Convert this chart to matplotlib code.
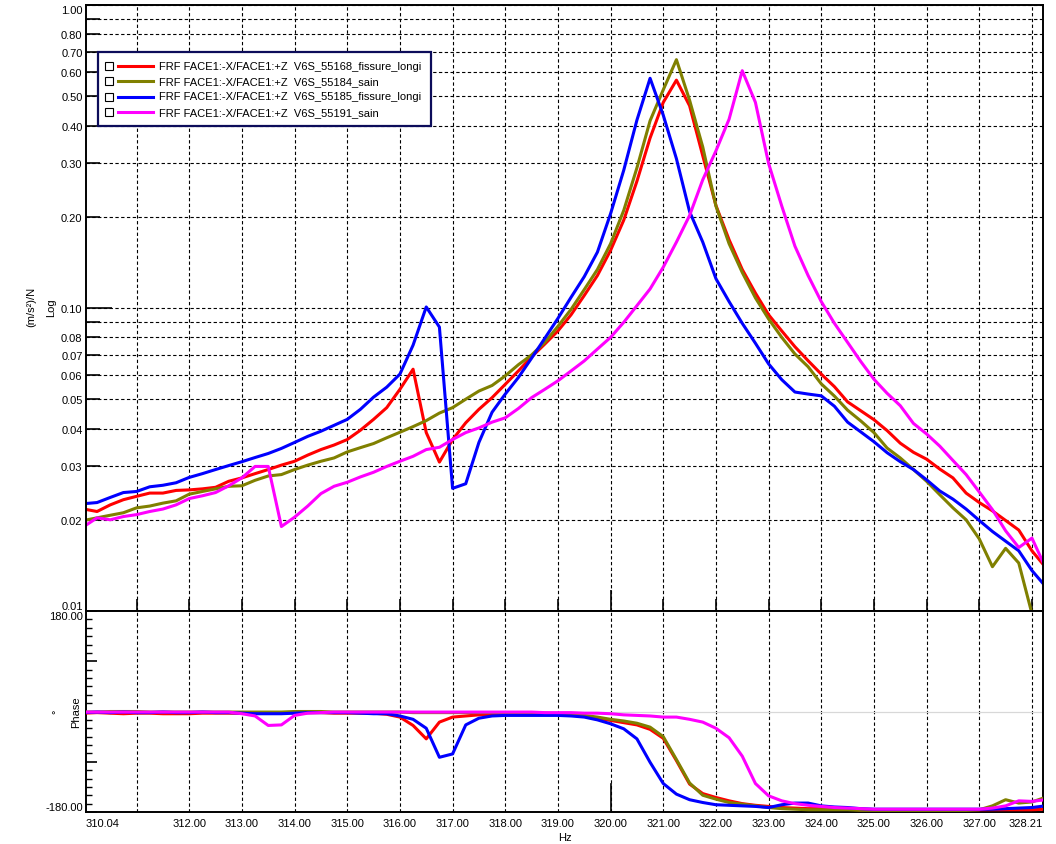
import numpy as np
import matplotlib
matplotlib.use('Agg')
import matplotlib.pyplot as plt
from matplotlib.ticker import FixedLocator, FuncFormatter
from matplotlib.patches import Rectangle
from matplotlib.lines import Line2D

plt.rcParams['font.family'] = ['Liberation Sans', 'DejaVu Sans']
plt.rcParams['font.size'] = 8

# frequency grid of the FRF (0.25 Hz resolution)
freq = np.arange(310.0, 328.26, 0.25)

names = ["FRF FACE1:-X/FACE1:+Z  V6S_55168_fissure_longi",
         "FRF FACE1:-X/FACE1:+Z  V6S_55184_sain",
         "FRF FACE1:-X/FACE1:+Z  V6S_55185_fissure_longi",
         "FRF FACE1:-X/FACE1:+Z  V6S_55191_sain"]
colors = ["#ff0000", "#808000", "#0000ff", "#ff00ff"]

# magnitude, (m/s2)/N
mag_55168 = [0.0217, 0.0213, 0.0224, 0.0233, 0.0239, 0.0245, 0.0245, 0.0250,
             0.0251, 0.0253, 0.0256, 0.0268, 0.0275, 0.0284, 0.0293, 0.0303,
             0.0312, 0.0327, 0.0341, 0.0353, 0.0368, 0.0395, 0.0429, 0.0469,
             0.0539, 0.0628, 0.0388, 0.0310, 0.0368, 0.0418, 0.0463, 0.0506,
             0.0560, 0.0620, 0.0690, 0.0760, 0.0840, 0.0950, 0.1100, 0.1280,
             0.1550, 0.1950, 0.2620, 0.3640, 0.4770, 0.5650, 0.4650, 0.3180,
             0.2180, 0.1680, 0.1340, 0.1120, 0.0950, 0.0840, 0.0745, 0.0670,
             0.0605, 0.0550, 0.0490, 0.0458, 0.0428, 0.0394, 0.0358, 0.0334,
             0.0317, 0.0294, 0.0275, 0.0245, 0.0228, 0.0214, 0.0199, 0.0185,
             0.0158, 0.0140]
mag_55184 = [0.0199, 0.0203, 0.0207, 0.0211, 0.0219, 0.0222, 0.0227, 0.0231,
             0.0243, 0.0248, 0.0253, 0.0258, 0.0259, 0.0270, 0.0279, 0.0282,
             0.0293, 0.0303, 0.0312, 0.0320, 0.0335, 0.0346, 0.0357, 0.0373,
             0.0389, 0.0406, 0.0425, 0.0450, 0.0469, 0.0500, 0.0532, 0.0555,
             0.0597, 0.0650, 0.0700, 0.0770, 0.0870, 0.0990, 0.1150, 0.1340,
             0.1630, 0.2100, 0.2900, 0.4150, 0.5250, 0.6600, 0.4850, 0.3400,
             0.2170, 0.1630, 0.1310, 0.1080, 0.0920, 0.0800, 0.0705, 0.0640,
             0.0562, 0.0512, 0.0460, 0.0424, 0.0388, 0.0345, 0.0320, 0.0293,
             0.0268, 0.0242, 0.0219, 0.0200, 0.0173, 0.0140, 0.0161, 0.0144,
             0.0098, 0.0080]
mag_55185 = [0.0226, 0.0228, 0.0237, 0.0246, 0.0248, 0.0257, 0.0260, 0.0265,
             0.0276, 0.0284, 0.0293, 0.0302, 0.0311, 0.0321, 0.0331, 0.0344,
             0.0360, 0.0377, 0.0392, 0.0410, 0.0429, 0.0463, 0.0508, 0.0548,
             0.0605, 0.0754, 0.1008, 0.0865, 0.0254, 0.0263, 0.0360, 0.0453,
             0.0520, 0.0590, 0.0683, 0.0794, 0.0924, 0.1085, 0.1269, 0.1529,
             0.2048, 0.2850, 0.4170, 0.5730, 0.4330, 0.3110, 0.2080, 0.1650,
             0.1250, 0.1050, 0.0890, 0.0765, 0.0654, 0.0580, 0.0528, 0.0520,
             0.0513, 0.0474, 0.0420, 0.0390, 0.0362, 0.0333, 0.0311, 0.0293,
             0.0271, 0.0249, 0.0234, 0.0217, 0.0199, 0.0183, 0.0170, 0.0158,
             0.0136, 0.0121]
mag_55191 = [0.0190, 0.0203, 0.0200, 0.0205, 0.0208, 0.0213, 0.0217, 0.0224,
             0.0235, 0.0240, 0.0246, 0.0259, 0.0275, 0.0300, 0.0300, 0.0190,
             0.0204, 0.0222, 0.0244, 0.0258, 0.0266, 0.0277, 0.0287, 0.0300,
             0.0312, 0.0324, 0.0341, 0.0347, 0.0368, 0.0388, 0.0402, 0.0420,
             0.0434, 0.0466, 0.0506, 0.0539, 0.0575, 0.0620, 0.0669, 0.0732,
             0.0800, 0.0897, 0.1018, 0.1156, 0.1364, 0.1650, 0.2020, 0.2650,
             0.3300, 0.4200, 0.6070, 0.4770, 0.3000, 0.2170, 0.1600, 0.1280,
             0.1050, 0.0890, 0.0770, 0.0666, 0.0582, 0.0523, 0.0476, 0.0416,
             0.0384, 0.0350, 0.0314, 0.0282, 0.0247, 0.0216, 0.0184, 0.0162,
             0.0174, 0.0140]

# phase, degrees
ph_55168 = [-3, -2, -3, -4, -3, -3, -4, -4, -4, -3, -3, -3, -3, -3, -3, -2,
            -2, -2, -2, -3, -3, -3, -3, -5, -10, -25, -49, -19, -10, -8, -6, -5,
            -5, -5, -5, -5, -5, -6, -8, -12, -16, -20, -24, -32, -48, -88, -130, -147,
            -154, -160, -165, -168, -170, -172, -173, -174, -174, -175, -175, -176,
            -176, -176, -176, -176, -176, -176, -176, -176, -176, -176, -176, -176,
            -176, -175]
ph_55184 = [-1, -1, 0, 0, 0, -1, -1, -1, -1, -1, -1, -1, -1, -1, -1, -1,
            0, 0, 0, -1, -1, -1, -1, -1, -1, -2, -2, -2, -2, -2, -2, -2,
            -3, -3, -3, -3, -4, -5, -7, -10, -14, -17, -21, -28, -45, -86, -128, -150,
            -157, -163, -166, -169, -172, -174, -175, -176, -176, -176, -176, -177,
            -177, -177, -177, -177, -177, -177, -177, -177, -176, -169, -158, -164,
            -162, -154]
ph_55185 = [-2, -1, -2, -1, -2, -2, -1, -2, -2, -1, -2, -2, -3, -4, -4, -4,
            -3, -2, -2, -2, -2, -3, -4, -4, -8, -14, -30, -82, -76, -24, -12, -8,
            -7, -7, -7, -7, -7, -8, -10, -15, -22, -31, -49, -91, -129, -148, -158, -163,
            -167, -168, -169, -170, -172, -167, -164, -164, -169, -171, -172, -174,
            -175, -175, -175, -175, -175, -175, -175, -175, -175, -175, -174, -173,
            -172, -169]
ph_55191 = [-1, -1, -1, -1, -1, -1, -1, -1, -1, -1, -1, -1, -4, -8, -25, -24,
            -7, -3, -2, -1, -1, -1, -1, -1, -1, -1, -1, -1, -1, -1, -1, -1,
            -1, -1, -1, -2, -2, -2, -3, -3, -4, -6, -7, -8, -10, -10, -14, -19,
            -30, -47, -80, -129, -151, -160, -165, -168, -170, -172, -173, -174,
            -175, -175, -175, -175, -175, -175, -175, -175, -175, -173, -169, -160,
            -161, -158]

mags = [mag_55168, mag_55184, mag_55185, mag_55191]
phases = [ph_55168, ph_55184, ph_55185, ph_55191]

f_min, f_max = 310.04, 328.21
grid_freqs = list(range(311, 329))
long_tick_freq = 320
label_freqs = [310.04] + list(range(312, 328)) + [328.21]
mag_min, mag_max = 0.01, 1.0
mag_major = [0.01, 0.1, 1.0]
mag_minor = [0.02, 0.03, 0.04, 0.05, 0.06, 0.07, 0.08, 0.09,
             0.2, 0.3, 0.4, 0.5, 0.6, 0.7, 0.8, 0.9]
mag_unlabelled = [0.09, 0.9]
ph_min, ph_max = -180, 180

W, H = 1056, 845
fig = plt.figure(figsize=(W / 100, H / 100), dpi=100)


def fx(px):
    return px / W


def fy(py):
    return 1 - py / H


def near(v, ref):
    return abs(v - ref) < 1e-9


grid_kw = dict(color='black', linewidth=0.8, linestyle=(0, (3.0, 2.2)))

ax_mag = fig.add_axes([fx(86), fy(612), (1043 - 86) / W, (612 - 6) / H])
ax_ph = fig.add_axes([fx(86), fy(813), (1043 - 86) / W, (813 - 612) / H])

for ax in (ax_mag, ax_ph):
    for s in ax.spines.values():
        s.set_linewidth(1.4)
        s.set_color('black')
    ax.set_xlim(f_min, f_max)

# --- magnitude panel
for y, c in zip(mags, colors):
    ax_mag.plot(freq, y, color=c, linewidth=2.2)
ax_mag.set_yscale('log')
ax_mag.set_ylim(mag_min, mag_max)
ax_mag.yaxis.set_major_locator(FixedLocator(mag_major))
ax_mag.yaxis.set_minor_locator(FixedLocator(mag_minor))
# end labels are drawn separately so they can sit inside the axis range
ax_mag.yaxis.set_major_formatter(FuncFormatter(
    lambda v, _: '' if near(v, mag_min) or near(v, mag_max) else f'{v:.2f}'))
ax_mag.yaxis.set_minor_formatter(FuncFormatter(
    lambda v, _: '' if any(near(v, u) for u in mag_unlabelled) else f'{v:.2f}'))
ax_mag.tick_params(axis='y', which='major', direction='in', length=19, width=1.2, pad=2.5)
ax_mag.tick_params(axis='y', which='minor', direction='in', length=10, width=1.2, pad=2.5,
                   labelsize=8)
ax_mag.xaxis.set_major_locator(FixedLocator([long_tick_freq]))
ax_mag.xaxis.set_minor_locator(FixedLocator([f for f in grid_freqs if f != long_tick_freq]))
ax_mag.tick_params(axis='x', which='major', direction='in', length=15, width=1.2,
                   labelbottom=False)
ax_mag.tick_params(axis='x', which='minor', direction='in', length=9, width=1.2)
ax_mag.grid(True, which='both', axis='both', **grid_kw)
ax_mag.set_axisbelow(True)
ytr = ax_mag.get_yaxis_transform()
ax_mag.text(-0.0035, mag_max, f'{mag_max:.2f}', transform=ytr, ha='right', va='top')
ax_mag.text(-0.0035, mag_min, f'{mag_min:.2f}', transform=ytr, ha='right', va='bottom')

# --- phase panel
ax_ph.axhline(0, color='#d8d8d8', linewidth=0.9, zorder=1)
ax_ph.axvline(long_tick_freq, ymin=0, ymax=0.14, color='black', linewidth=1.2, zorder=2)
for y, c in zip(phases, colors):
    ax_ph.plot(freq, y, color=c, linewidth=2.2, zorder=3)
ax_ph.set_ylim(ph_min, ph_max)
ax_ph.yaxis.set_major_locator(FixedLocator([-180, -90, 90, 180]))
ax_ph.yaxis.set_minor_locator(FixedLocator(list(range(-165, 180, 15))))
ax_ph.yaxis.set_major_formatter(FuncFormatter(lambda v, _: ''))
ax_ph.tick_params(axis='y', which='major', direction='in', length=8, width=1.2, pad=2.5)
ax_ph.tick_params(axis='y', which='minor', direction='in', length=4, width=1.0)
ptr = ax_ph.get_yaxis_transform()
ax_ph.text(-0.0035, ph_max, f'{ph_max:.2f}', transform=ptr, ha='right', va='top')
ax_ph.text(-0.0035, ph_min, f'{ph_min:.2f}', transform=ptr, ha='right', va='bottom')

ax_ph.xaxis.remove_overlapping_locs = False
ax_ph.xaxis.set_major_locator(FixedLocator(label_freqs))
ax_ph.xaxis.set_major_formatter(FuncFormatter(lambda v, _: f'{v:.2f}'))
ax_ph.xaxis.set_minor_locator(FixedLocator(grid_freqs))
ax_ph.tick_params(axis='x', which='both', length=0, pad=4)
ax_ph.grid(True, which='minor', axis='x', **grid_kw)
ax_ph.grid(False, which='major')
ax_ph.set_axisbelow(True)
xt = ax_ph.xaxis.get_major_ticks()
xt[0].label1.set_horizontalalignment('left')
xt[-1].label1.set_horizontalalignment('right')

# --- axis titles
fig.text(fx(31), fy(307), '(m/s²)/N', rotation=90, ha='center', va='center', fontsize=8)
fig.text(fx(51), fy(308), 'Log', rotation=90, ha='center', va='center', fontsize=8)
fig.text(fx(56), fy(712), '°', rotation=90, ha='center', va='center', fontsize=8)
fig.text(fx(76), fy(712), 'Phase', rotation=90, ha='center', va='center', fontsize=8)
fig.text(fx(565), fy(838), 'Hz', ha='center', va='center', fontsize=8)

# --- legend box with check squares
fig.patches.append(Rectangle((fx(98), fy(127)), (431 - 98) / W, (127 - 53) / H,
                             transform=fig.transFigure, facecolor='white',
                             edgecolor='#0c0c5a', linewidth=1.6, zorder=5))
row_y = [67, 82, 97.5, 112.7]
for name, c, ry in zip(names, colors, row_y):
    fig.patches.append(Rectangle((fx(104.5), fy(ry + 4)), 8 / W, 8 / H,
                                 transform=fig.transFigure, facecolor='white',
                                 edgecolor='black', linewidth=0.8, zorder=6))
    fig.lines.append(Line2D([fx(118), fx(153)], [fy(ry), fy(ry)], color=c,
                            linewidth=2.2, transform=fig.transFigure, zorder=6))
    fig.text(fx(159), fy(ry), name, ha='left', va='center', fontsize=8, zorder=7)

fig.savefig('out.png', dpi=100)
